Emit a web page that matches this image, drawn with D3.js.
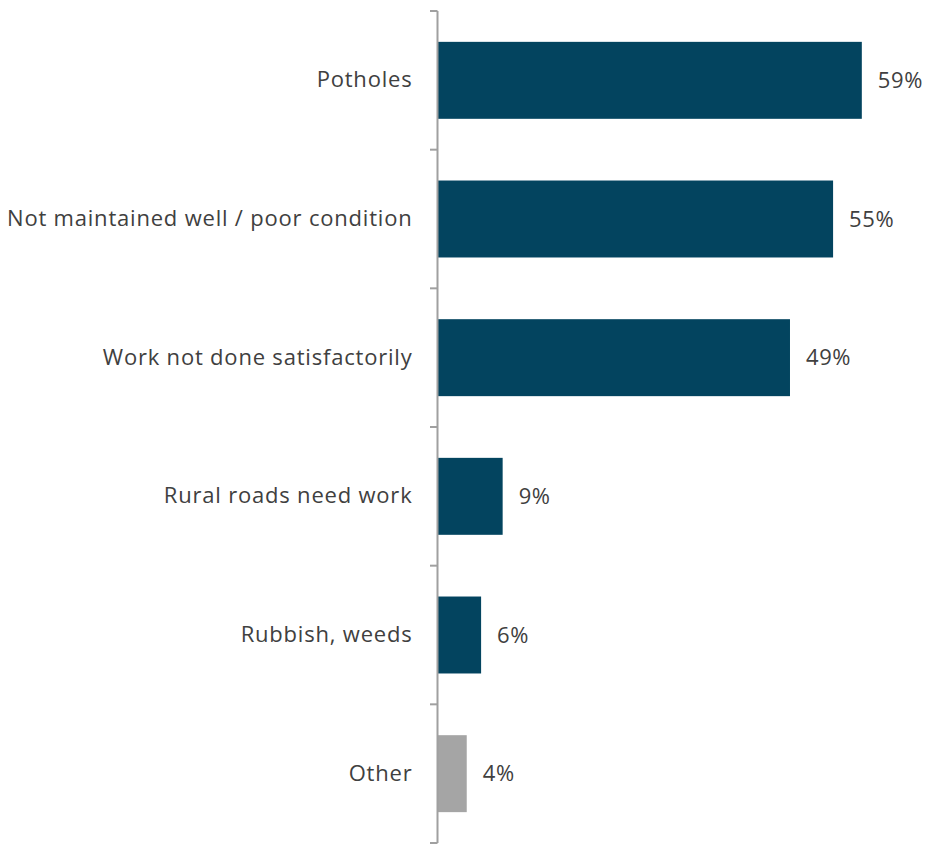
<!DOCTYPE html>
<html><head><meta charset="utf-8">
<script src="https://cdn.jsdelivr.net/npm/d3@7"></script>
<style>body{margin:0;background:#fff;} text{font-family:"Open Sans",sans-serif;fill:#404040;}</style>
</head><body>
<svg id="chart" width="929" height="844"></svg>
<script>
const categories = ["Potholes","Not maintained well / poor condition","Work not done satisfactorily","Rural roads need work","Rubbish, weeds","Other"];
const values = [59,55,49,9,6,4];
const colors = ["#03445F","#03445F","#03445F","#03445F","#03445F","#A5A5A5"];
const valueLabels = ["59%","55%","49%","9%","6%","4%"];

const svg = d3.select("#chart");
const y = d3.scaleBand().domain(categories).range([11, 843]).paddingInner(0.445).paddingOuter(0.2225);
const x = d3.scaleLinear().domain([0, 60]).range([438, 869]);

svg.selectAll("rect.bar").data(categories).join("rect")
  .attr("class","bar")
  .attr("x", x(0))
  .attr("y", d => y(d))
  .attr("width", (d,i) => x(values[i]) - x(0))
  .attr("height", y.bandwidth())
  .attr("fill", (d,i) => colors[i]);

const axis = d3.axisLeft(y).tickSize(0).tickPadding(25);
const g = svg.append("g").attr("transform","translate(437.5,0)").call(axis);
g.select(".domain").remove();
g.selectAll("text").style("font-size","22px").style("letter-spacing","0.8px")
  .style("font-family","'Open Sans',sans-serif").attr("fill","#404040");

svg.append("line").attr("x1",437.5).attr("x2",437.5).attr("y1",11).attr("y2",843).attr("stroke","#A0A0A0").attr("stroke-width",2);
const step = y.step();
const bounds = d3.range(categories.length+1).map(i => 11 + i*step);
svg.selectAll("line.tk").data(bounds).join("line").attr("class","tk")
  .attr("x1",430).attr("x2",437.5).attr("y1",d=>d).attr("y2",d=>d)
  .attr("stroke","#A0A0A0").attr("stroke-width",2);

svg.selectAll("text.val").data(categories).join("text")
  .attr("class","val")
  .attr("x",(d,i)=>x(values[i])+16)
  .attr("y",d=>y(d)+y.bandwidth()/2)
  .attr("dy","0.35em")
  .style("font-size","22px").style("letter-spacing","0.6px")
  .text((d,i)=>valueLabels[i]);
</script>
</body></html>
